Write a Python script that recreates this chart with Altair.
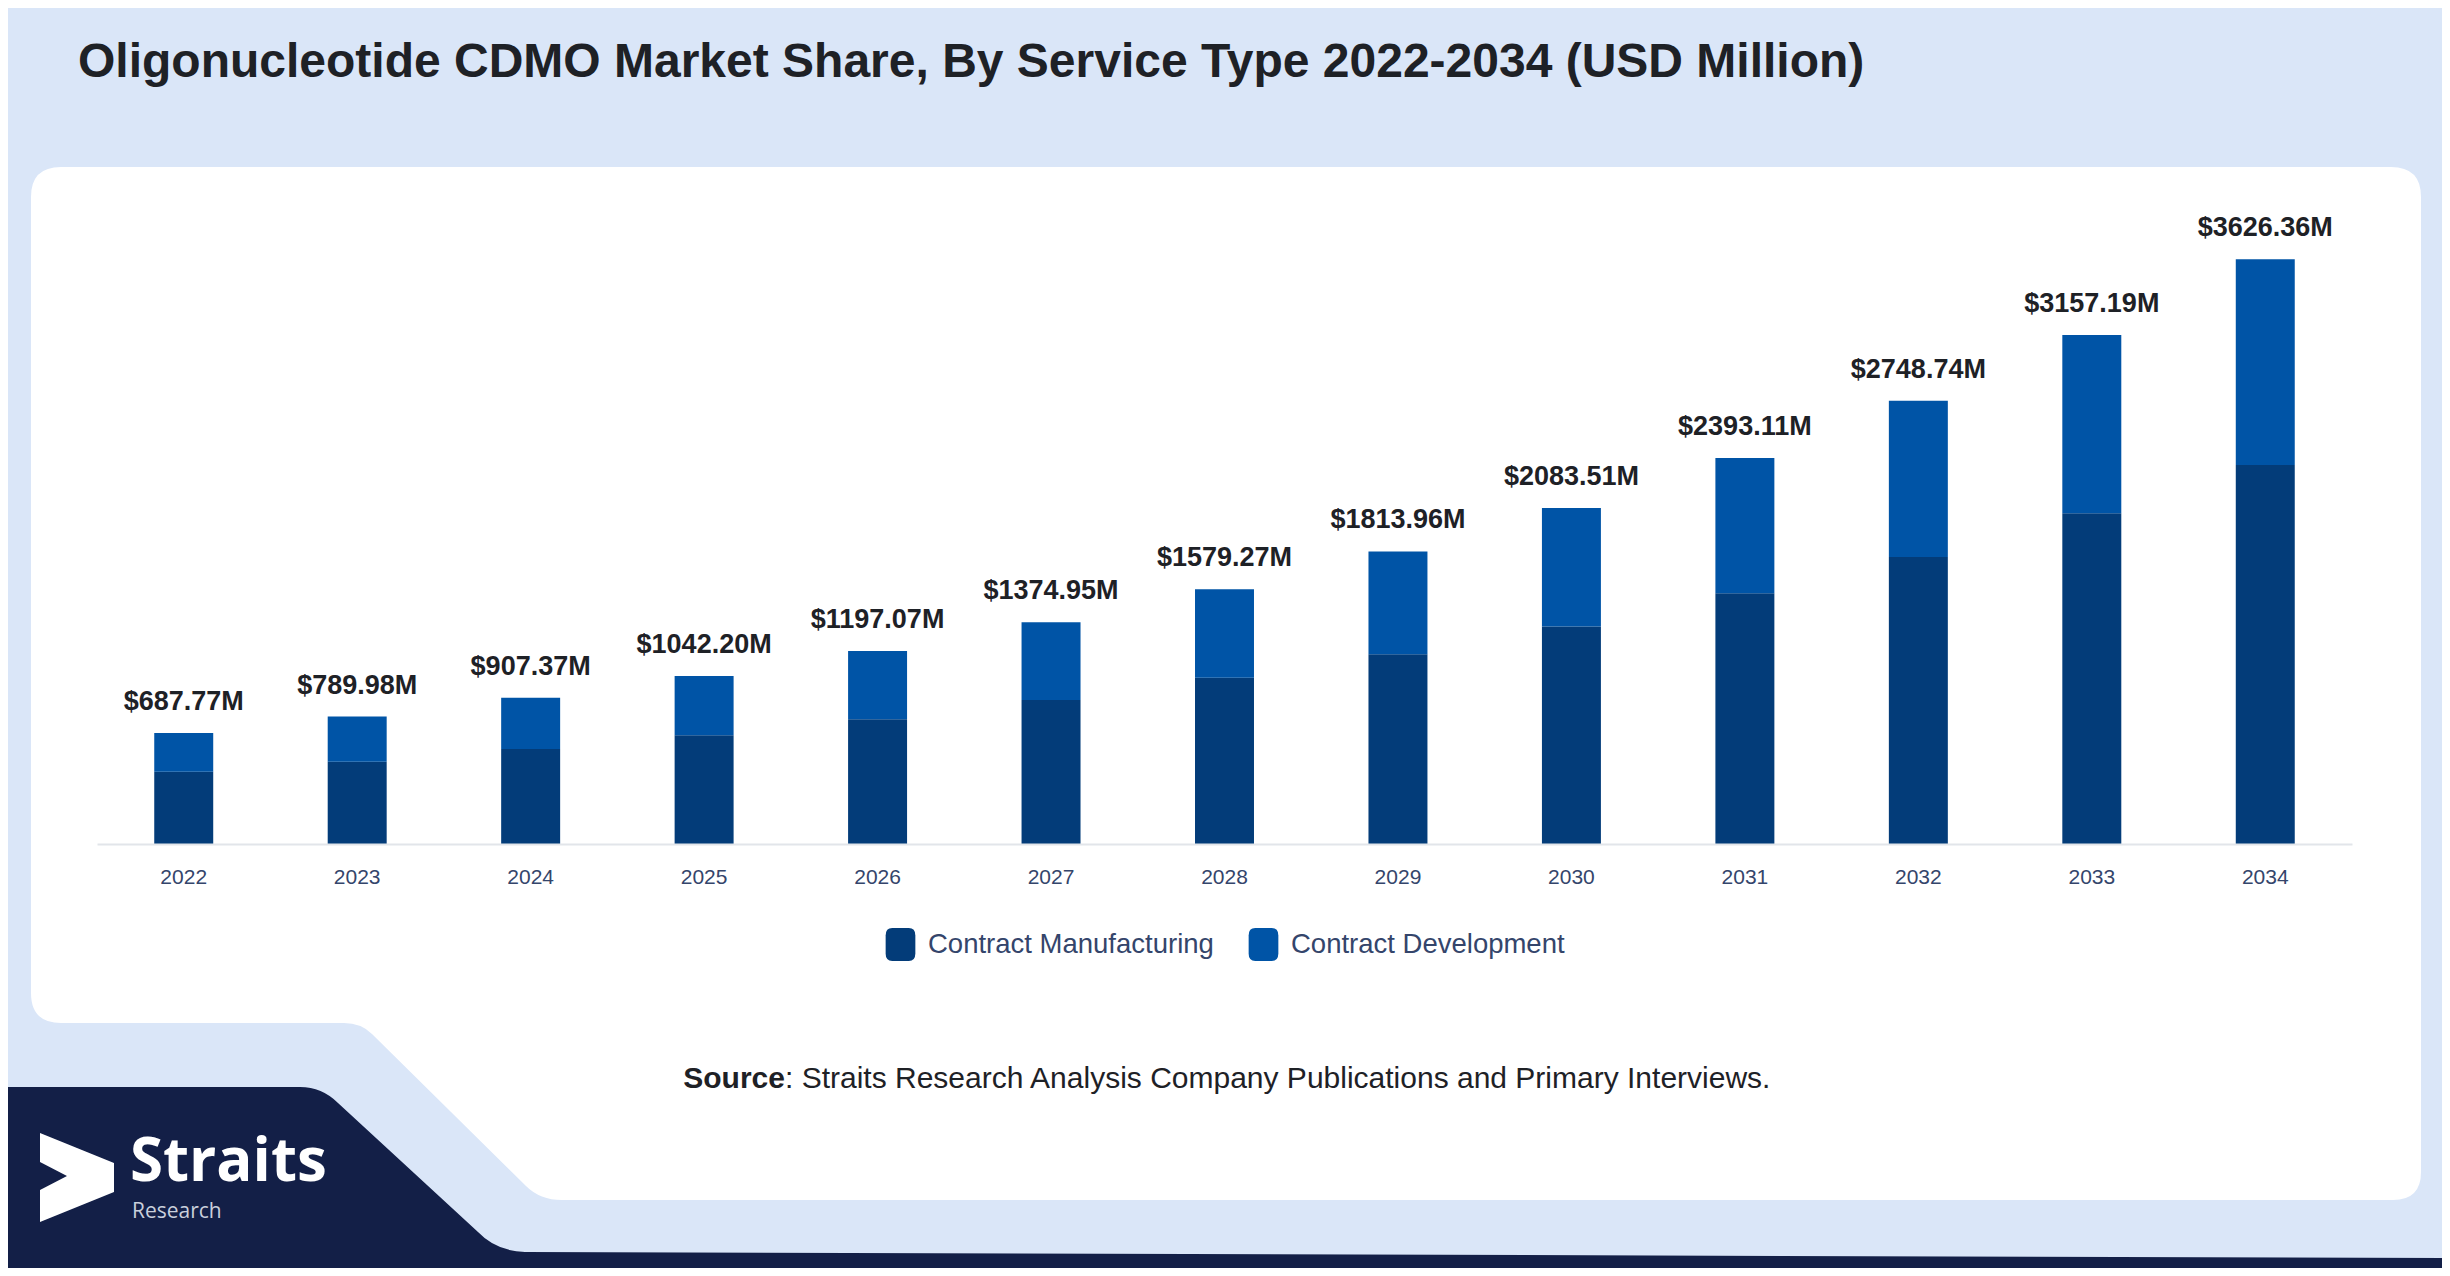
import altair as alt
import pandas as pd

# ---------------- data ----------------
years = ["2022", "2023", "2024", "2025", "2026", "2027", "2028",
         "2029", "2030", "2031", "2032", "2033", "2034"]
totals = [687.77, 789.98, 907.37, 1042.20, 1197.07, 1374.95, 1579.27,
          1813.96, 2083.51, 2393.11, 2748.74, 3157.19, 3626.36]
manufacturing = [448.0, 510.0, 589.0, 675.0, 774.0, 893.0, 1031.0,
                 1177.0, 1349.0, 1555.0, 1780.0, 2051.0, 2350.0]
development = [239.77, 279.98, 318.37, 367.20, 423.07, 481.95, 548.27,
               636.96, 734.51, 838.11, 968.74, 1106.19, 1276.36]
services = ["Contract Manufacturing", "Contract Development"]
total_labels = [f"${v:.2f}M" for v in totals]

title_text = ["Oligonucleotide CDMO Market Share, By Service Type 2022-2034 (USD Million)"]
source_bold = ["Source"]
source_rest = [": Straits Research Analysis Company Publications and Primary Interviews."]
logo_main = ["Straits"]
logo_sub = ["Research"]

# ---------------- tables ----------------
rows = []
for y, m, d in zip(years, manufacturing, development):
    rows.append({"year": y, "service": services[0], "value": m, "ord": 0})
    rows.append({"year": y, "service": services[1], "value": d, "ord": 1})
bar_df = pd.DataFrame(rows)
tot_df = pd.DataFrame({"year": years, "total": totals, "label": total_labels})

# ---------------- styles ----------------
FONT = "Liberation Sans"
BG = "#dae6f8"
NAVY = "#131f47"
C_MAN = "#033c79"
C_DEV = "#0054a6"
TXT = "#1e2126"
AXIS_TXT = "#34456b"

# decorative outlines (page pixel space, drawn from page origin)
PANEL_PATH = ("M 61,167 L 2391,167 Q 2421,167 2421,197 L 2421,1172 Q 2421,1200 2393,1200 "
              "L 562,1200 Q 540,1200 526,1186 L 372,1034 Q 361,1023 344,1023 L 61,1023 "
              "Q 31,1023 31,993 L 31,197 Q 31,167 61,167 Z")
NAVY_PATH = ("M -10,1087 L 300,1087 Q 322,1087 338,1103 L 478,1232 Q 496,1251 525,1252 "
             "L 2460,1258 L 2460,1290 L -10,1290 Z")
CHEVRON_PATH = ("M 40,1133 L 114,1163 L 114,1192 L 40,1222 L 40,1190 L 67,1176 L 40,1162 Z")
ROUND_SQ = ("M -0.9,-0.55 Q -0.9,-1 -0.5,-1 L 0.5,-1 Q 0.9,-1 0.9,-0.55 L 0.9,0.55 "
            "Q 0.9,1 0.5,1 L -0.5,1 Q -0.9,1 -0.9,0.55 Z")

OX, OY = -97, -199  # page origin relative to plot origin

one = pd.DataFrame({"k": [0]})


def deco(path, color):
    return alt.Chart(one).mark_point(
        shape=path, size=4, filled=True, color=color, opacity=1, strokeWidth=0
    ).encode(x=alt.value(OX), y=alt.value(OY))


def label(texts, x, y, **kw):
    return alt.Chart(pd.DataFrame({"t": texts})).mark_text(
        baseline="alphabetic", **kw
    ).encode(x=alt.value(x), y=alt.value(y), text="t:N")


panel = deco(PANEL_PATH, "#ffffff")
navy = deco(NAVY_PATH, NAVY)
chevron = deco(CHEVRON_PATH, "#ffffff")

x_enc = alt.X(
    "year:N", sort=years,
    scale=alt.Scale(paddingInner=0.66, paddingOuter=0.33),
    axis=alt.Axis(title=None, labelAngle=0, ticks=False, labelPadding=22,
                  labelFontSize=21, labelColor=AXIS_TXT, labelFont=FONT,
                  domainColor="#e2e5ea", domainWidth=2, grid=False, zindex=1),
)

bars = alt.Chart(bar_df).mark_bar().encode(
    x=x_enc,
    y=alt.Y("value:Q", stack="zero", scale=alt.Scale(domain=[0, 4000], nice=False), axis=None),
    color=alt.Color(
        "service:N",
        scale=alt.Scale(domain=services, range=[C_MAN, C_DEV]),
        legend=alt.Legend(
            title=None, orient="none", legendX=787, legendY=729,
            direction="horizontal", symbolType=ROUND_SQ, symbolSize=1089,
            symbolStrokeWidth=0, labelFontSize=27.5, labelFont=FONT,
            labelColor=AXIS_TXT, labelOffset=11, columnPadding=33, labelLimit=0,
        ),
    ),
    order=alt.Order("ord:Q", sort="ascending"),
)

tot_text = alt.Chart(tot_df).mark_text(
    font=FONT, fontWeight="bold", fontSize=27, color=TXT, baseline="alphabetic", dy=-23
).encode(
    x=alt.X("year:N", sort=years),
    y=alt.Y("total:Q"),
    text="label:N",
)

title = label(title_text, -19, -122, font=FONT, fontWeight="bold", fontSize=48,
              color=TXT, align="left")
src_b = label(source_bold, 688, 889, font=FONT, fontWeight="bold", fontSize=30,
              color=TXT, align="right")
src_r = label(source_rest, 688, 889, font=FONT, fontSize=30, color=TXT, align="left")
logo1 = label(logo_main, 33, 982, font="Open Sans", fontWeight="bold", fontSize=60,
              color="#ffffff", align="left")
logo2 = label(logo_sub, 35, 1019, font="Open Sans", fontSize=21,
              color="#c9cfdc", align="left")

chart = alt.layer(
    panel, navy, chevron, bars, tot_text, title, src_b, src_r, logo1, logo2
).properties(
    width=2255, height=645,
    padding={"left": 89, "top": 191, "right": 90, "bottom": 424},
    autosize=alt.AutoSizeParams(type="none"),
).configure(background=BG).configure_view(strokeWidth=0)

chart.save("out.html", embed_options={"renderer": "svg", "actions": False})
